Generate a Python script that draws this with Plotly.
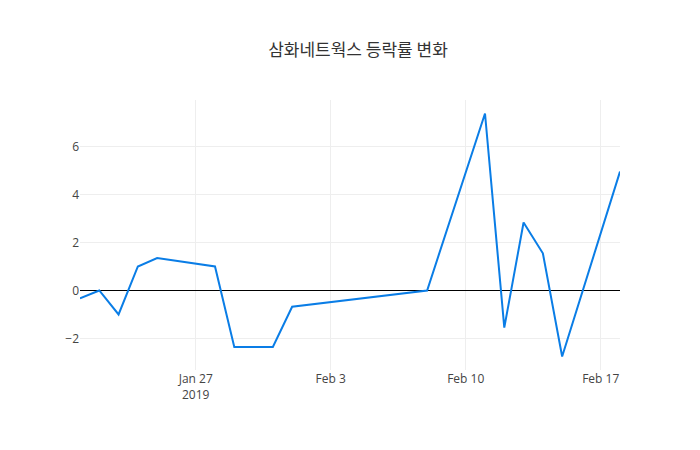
import plotly.graph_objects as go

dates = ["2019-01-21", "2019-01-22", "2019-01-23", "2019-01-24", "2019-01-25",
         "2019-01-28", "2019-01-29", "2019-01-31", "2019-02-01", "2019-02-08",
         "2019-02-11", "2019-02-12", "2019-02-13", "2019-02-14", "2019-02-15",
         "2019-02-18"]
change = [-0.33, 0.0, -1.0, 1.0, 1.35, 1.0, -2.35, -2.35, -0.68, 0.0,
          7.37, -1.55, 2.83, 1.55, -2.75, 4.95]

fig = go.Figure()
fig.add_trace(go.Scatter(x=dates, y=change, mode="lines",
                         line=dict(color="#0a7de6", width=2)))
fig.update_layout(
    template="plotly_white",
    width=700, height=450,
    title=dict(text="삼화네트웍스 등락률 변화", x=0.5, y=0.92,
               font=dict(family="Noto Sans CJK KR", size=17, color="#333")),
    font=dict(family="Open Sans", color="#444"),
    margin=dict(l=72, r=88, t=92, b=88),
    showlegend=False,
)
fig.update_yaxes(zeroline=True, zerolinecolor="black", zerolinewidth=1,
                 gridcolor="#eeeeee", tickvals=[-2, 0, 2, 4, 6])
fig.update_xaxes(showgrid=True, gridcolor="#eeeeee")
fig.write_html("out.html")
